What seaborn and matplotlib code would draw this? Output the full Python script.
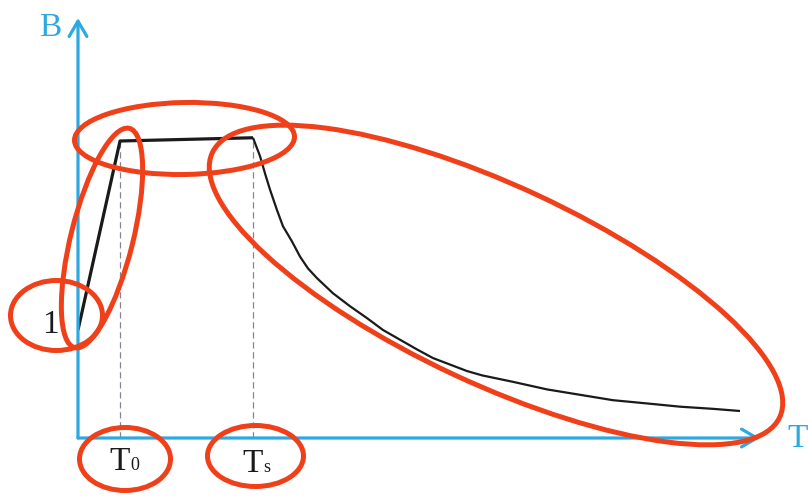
import matplotlib
matplotlib.use("Agg")
import matplotlib.pyplot as plt
from matplotlib.patches import Ellipse
import seaborn as sns
import pandas as pd

# Response curve B(T): linear rise to T0, plateau to Ts, then decay
T = [0.0, 0.42, 1.75, 1.82, 1.87, 1.92, 1.99, 2.05, 2.14, 2.22,
     2.30, 2.39, 2.55, 2.72, 2.89, 3.05, 3.22, 3.39, 3.55, 3.72,
     3.89, 4.04, 4.35, 4.69, 5.02, 5.35, 5.69, 6.02, 6.35, 6.62]
B = [1.00, 2.75, 2.78, 2.61, 2.45, 2.30, 2.11, 1.96, 1.82, 1.68,
     1.57, 1.48, 1.34, 1.22, 1.11, 1.00, 0.91, 0.82, 0.74, 0.68,
     0.62, 0.58, 0.52, 0.45, 0.40, 0.35, 0.32, 0.29, 0.27, 0.25]

T0 = T[1]
Ts = T[2]
B_T0 = B[1]
B_Ts = B[2]

axis_labels = ["T", "B"]
mark_labels = ["1", "T", "T"]
mark_subs = ["", "0", "s"]

AXIS_BLUE = "#2CA9E1"
RING_RED = "#F0401A"
INK = "#1a1a1a"

sns.set_theme(style="white")
plt.rcParams["font.family"] = ["Liberation Serif", "DejaVu Serif"]

W, H = 808, 498
fig = plt.figure(figsize=(W / 100, H / 100), dpi=100)
fig.patch.set_facecolor("white")

# Main plotting area: origin at the corner of the two arrows
x0, y0, x1, y1 = 78, 438, 760, 18
ax = fig.add_axes([x0 / W, (H - y0) / H, (x1 - x0) / W, (y0 - y1) / H])
ax.set_xlim(0, (x1 - x0) / 100)
ax.set_ylim(0, (y0 - y1) / 108)
ax.set_facecolor("none")
sns.despine(ax=ax, left=True, bottom=True)

df = pd.DataFrame({"T": T, "B": B})
# rise + plateau drawn slightly heavier than the decay tail
sns.lineplot(data=df.iloc[:3], x="T", y="B", color=INK, lw=2.3,
             estimator=None, sort=False, ax=ax, zorder=3,
             solid_joinstyle="round", solid_capstyle="butt")
sns.lineplot(data=df.iloc[2:], x="T", y="B", color=INK, lw=1.6,
             estimator=None, sort=False, ax=ax, zorder=3,
             solid_joinstyle="round", solid_capstyle="butt")
ax.set_xticks([])
ax.set_yticks([])
ax.set_xlabel("")
ax.set_ylabel("")

# dashed guides from the plateau corners down to the T axis
for tx, by in [(T0, B_T0), (Ts, B_Ts)]:
    ax.plot([tx, tx], [0, by], color="#8a8290", lw=0.9,
            linestyle=(0, (5, 3)), zorder=2)

# arrowed axes
arrow_kw = dict(arrowstyle="->,head_length=0.55,head_width=0.32",
                color=AXIS_BLUE, lw=2.3, shrinkA=0, shrinkB=0,
                mutation_scale=20)
ax.annotate("", xy=(1, 0), xytext=(0, 0), xycoords="axes fraction",
            textcoords="axes fraction", arrowprops=arrow_kw, zorder=4)
ax.annotate("", xy=(0, 1), xytext=(0, 0), xycoords="axes fraction",
            textcoords="axes fraction", arrowprops=arrow_kw, zorder=4)

# axis names
ax.text(7.09, -0.083, axis_labels[0], color=AXIS_BLUE, fontsize=24,
        ha="left", va="baseline", clip_on=False)
ax.text(-0.28, 3.72, axis_labels[1], color=AXIS_BLUE, fontsize=24,
        ha="center", va="baseline", clip_on=False)

# value marks: the starting level and the two corner times
ax.text(-0.28, 0.975, mark_labels[0], color=INK, fontsize=24,
        ha="center", va="baseline", clip_on=False)
for tx, base, lab, sub in [(T0, -0.296, mark_labels[1], mark_subs[1]),
                           (Ts, -0.315, mark_labels[2], mark_subs[2])]:
    ax.text(tx, base, lab, color=INK, fontsize=24, ha="center",
            va="baseline", clip_on=False)
    ax.annotate(sub, xy=(tx, base), xytext=(10, 0),
                textcoords="offset pixels", color=INK, fontsize=13,
                ha="left", va="baseline", annotation_clip=False)

# hand-drawn style highlight rings, laid over the figure in pixel units
ov = fig.add_axes([0, 0, 1, 1])
ov.set_xlim(0, W)
ov.set_ylim(H, 0)
ov.axis("off")
rings = [
    ((56.5, 315.5), 92, 70, 0),
    ((102, 238), 226, 62, -76),
    ((184.5, 138.5), 220, 72, -1),
    ((496, 285), 626, 198, 25),
    ((125, 459), 91, 63, 0),
    ((255.5, 456), 96, 61, 0),
]
for c, w, h, a in rings:
    ov.add_patch(Ellipse(c, w, h, angle=a, fill=False, edgecolor=RING_RED,
                         lw=3.6, zorder=5))

fig.savefig("out.png", dpi=100, facecolor="white")
